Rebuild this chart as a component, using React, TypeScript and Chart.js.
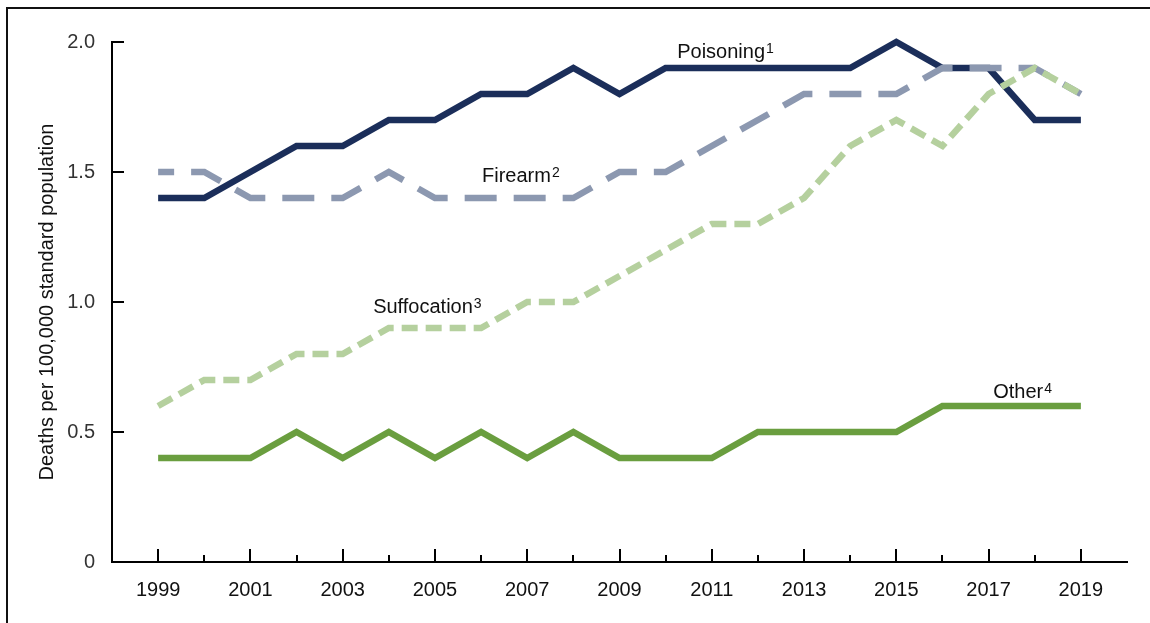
import React, { useEffect, useRef } from "react";
import { Chart, registerables } from "chart.js";

Chart.register(...registerables);

const years = [1999, 2000, 2001, 2002, 2003, 2004, 2005, 2006, 2007, 2008, 2009, 2010, 2011, 2012, 2013, 2014, 2015, 2016, 2017, 2018, 2019];
const poisoning = [1.4, 1.4, 1.5, 1.6, 1.6, 1.7, 1.7, 1.8, 1.8, 1.9, 1.8, 1.9, 1.9, 1.9, 1.9, 1.9, 2.0, 1.9, 1.9, 1.7, 1.7];
const firearm = [1.5, 1.5, 1.4, 1.4, 1.4, 1.5, 1.4, 1.4, 1.4, 1.4, 1.5, 1.5, 1.6, 1.7, 1.8, 1.8, 1.8, 1.9, 1.9, 1.9, 1.8];
const suffocation = [0.6, 0.7, 0.7, 0.8, 0.8, 0.9, 0.9, 0.9, 1.0, 1.0, 1.1, 1.2, 1.3, 1.3, 1.4, 1.6, 1.7, 1.6, 1.8, 1.9, 1.8];
const other = [0.4, 0.4, 0.4, 0.5, 0.4, 0.5, 0.4, 0.5, 0.4, 0.5, 0.4, 0.4, 0.4, 0.5, 0.5, 0.5, 0.5, 0.6, 0.6, 0.6, 0.6];
const yTicks = [0, 0.5, 1.0, 1.5, 2.0];
const seriesLabels = [
  { text: "Poisoning", sup: "1", x: 2010.25, y: 1.938 },
  { text: "Firearm", sup: "2", x: 2006.02, y: 1.4615 },
  { text: "Suffocation", sup: "3", x: 2003.66, y: 0.958 },
  { text: "Other", sup: "4", x: 2017.1, y: 0.631 },
];

const FONT = '"Liberation Sans", Arial, Helvetica, sans-serif';

const toPoints = (vals: number[]) => vals.map((v, i) => ({ x: years[i], y: v }));

const decorPlugin = {
  id: "decor",
  beforeDraw(chart: any) {
    const ctx = chart.ctx;
    ctx.save();
    ctx.fillStyle = "#ffffff";
    ctx.fillRect(0, 0, chart.width, chart.height);
    ctx.fillStyle = "#111111";
    ctx.fillRect(6, 7, chart.width - 6, 2);
    ctx.fillRect(6, 7, 2, chart.height - 7);
    ctx.restore();
  },
  afterDraw(chart: any) {
    const ctx = chart.ctx;
    const xs = chart.scales.x;
    const ys = chart.scales.y;
    const area = chart.chartArea;
    ctx.save();
    ctx.strokeStyle = "#000";
    ctx.lineWidth = 2;
    ctx.lineCap = "butt";
    yTicks.forEach((v) => {
      if (v === 0) return;
      const py = Math.round(ys.getPixelForValue(v));
      ctx.beginPath();
      ctx.moveTo(area.left, py);
      ctx.lineTo(area.left + 12, py);
      ctx.stroke();
    });
    years.forEach((yr) => {
      const px = Math.round(xs.getPixelForValue(yr));
      const len = yr % 2 === 1 ? 13 : 7;
      ctx.beginPath();
      ctx.moveTo(px, area.bottom);
      ctx.lineTo(px, area.bottom - len);
      ctx.stroke();
    });
    ctx.fillStyle = "#111";
    ctx.textBaseline = "alphabetic";
    ctx.textAlign = "left";
    seriesLabels.forEach((l) => {
      const px = xs.getPixelForValue(l.x);
      const py = ys.getPixelForValue(l.y);
      ctx.font = `20px ${FONT}`;
      ctx.fillText(l.text, px, py);
      const w = ctx.measureText(l.text).width;
      ctx.font = `14px ${FONT}`;
      ctx.fillText(l.sup, px + w + 1, py - 5);
    });
    ctx.restore();
  },
};

export default function App() {
  const ref = useRef<HTMLCanvasElement | null>(null);
  useEffect(() => {
    if (!ref.current) return;
    const chart = new Chart(ref.current, {
      type: "line",
      data: {
        datasets: [
          {
            label: "Poisoning",
            data: toPoints(poisoning),
            borderColor: "#1b2e5a",
            borderWidth: 6.5,
            pointRadius: 0,
            tension: 0,
            order: 3,
            clip: false as any,
          },
          {
            label: "Firearm",
            data: toPoints(firearm),
            borderColor: "#8c98b0",
            borderWidth: 6.5,
            borderDash: [32, 17],
            borderDashOffset: 16,
            pointRadius: 0,
            tension: 0,
            order: 2,
            clip: false as any,
          },
          {
            label: "Suffocation",
            data: toPoints(suffocation),
            borderColor: "#b5d09e",
            borderWidth: 6.5,
            borderDash: [16, 8],
            pointRadius: 0,
            tension: 0,
            order: 1,
            clip: false as any,
          },
          {
            label: "Other",
            data: toPoints(other),
            borderColor: "#6a9e3f",
            borderWidth: 6.5,
            pointRadius: 0,
            tension: 0,
            order: 4,
            clip: false as any,
          },
        ],
      },
      options: {
        animation: false,
        responsive: false,
        maintainAspectRatio: false,
        devicePixelRatio: 1,
        layout: { padding: { left: 0, top: 42, right: 23, bottom: 0 } },
        plugins: {
          legend: { display: false },
          tooltip: { enabled: false },
          title: { display: false },
        },
        events: [],
        scales: {
          x: {
            type: "linear",
            min: 1998,
            max: 2020,
            afterFit: (s: any) => {
              s.height = 61;
            },
            grid: { display: false, drawTicks: false },
            border: { display: true, color: "#000", width: 2 },
            ticks: {
              stepSize: 1,
              autoSkip: false,
              maxRotation: 0,
              padding: 16,
              color: "#111",
              font: { family: FONT, size: 20 },
              callback: (v: any) => (Number(v) % 2 === 1 && v > 1998 && v < 2020 ? String(v) : ""),
            },
          },
          y: {
            type: "linear",
            min: 0,
            max: 2,
            afterFit: (s: any) => {
              s.width = 112;
            },
            afterBuildTicks: (s: any) => {
              s.ticks = yTicks.map((v) => ({ value: v }));
            },
            grid: { display: false, drawTicks: false },
            border: { display: true, color: "#000", width: 2 },
            title: {
              display: true,
              text: "Deaths per 100,000 standard population",
              color: "#111",
              font: { family: FONT, size: 20 },
              padding: { top: 35, bottom: 0 },
            },
            ticks: {
              padding: 17,
              color: "#333",
              font: { family: FONT, size: 20 },
              callback: (v: any) => (Number(v) === 0 ? "0" : Number(v).toFixed(1)),
            },
          },
        },
      },
      plugins: [decorPlugin],
    });
    return () => chart.destroy();
  }, []);
  return (
    <div style={{ position: "fixed", left: 0, top: 0, width: 1150, height: 623, background: "#fff" }}>
      <canvas ref={ref} width={1150} height={623} style={{ width: 1150, height: 623, display: "block" }} />
    </div>
  );
}
